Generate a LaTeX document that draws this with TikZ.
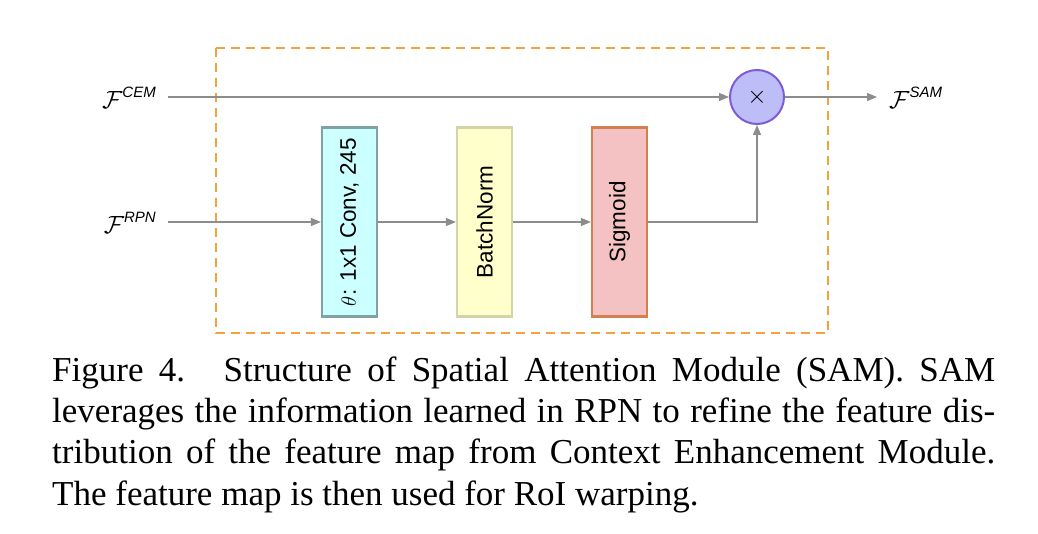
\documentclass[tikz,border=0pt]{standalone}
\usepackage{fontspec}
\setmainfont{Liberation Serif}
\setsansfont{Liberation Sans}
\usetikzlibrary{arrows.meta}

\definecolor{dashorange}{HTML}{F5A13F}
\definecolor{flowgray}{HTML}{8C8C8C}
\definecolor{convfill}{HTML}{CCFFFF}
\definecolor{convline}{HTML}{7FA3A3}
\definecolor{bnfill}{HTML}{FFFFCC}
\definecolor{bnline}{HTML}{D4D4A6}
\definecolor{sigfill}{HTML}{F4C2C2}
\definecolor{sigline}{HTML}{D2804F}
\definecolor{mulfill}{HTML}{BDBDF7}
\definecolor{mulline}{HTML}{7E5BD8}

\newcommand{\featlabel}[1]{$\mathcal{F}$\raisebox{11pt}{\fontsize{15}{15}\selectfont\sffamily\itshape #1}}

\begin{document}
\begin{tikzpicture}[x=1pt,y=-1pt,
    flow/.style={draw=flowgray, line width=1.3pt, -{Triangle[length=10pt,width=8pt]}},
    layer/.style={rectangle, line width=2.2pt, minimum width=55pt, minimum height=189pt,
        inner sep=0pt, font=\sffamily\fontsize{22.5}{22.5}\selectfont},
    feat/.style={inner sep=0pt, font=\fontsize{41}{41}\selectfont}]
    \useasboundingbox (0,0) rectangle (1038,534);

    % SAM frame
    \draw[dashorange, line width=2.5pt, dash pattern=on 9pt off 6pt] (216,48) rectangle (828,333);

    % Inputs
    \node[feat, anchor=east] (fcem) at (156,98) {\featlabel{CEM}};
    \node[feat, anchor=east] (frpn) at (156,223) {\featlabel{RPN}};

    % Layers
    \node[layer, draw=convline, fill=convfill] (conv) at (349.5,222) {\rotatebox{90}{$\theta$: 1x1 Conv, 245}};
    \node[layer, draw=bnline, fill=bnfill] (bn) at (484.5,222) {\rotatebox{90}{BatchNorm}};
    \node[layer, draw=sigline, fill=sigfill] (sig) at (619.5,222) {\rotatebox{90}{Sigmoid}};

    % Product
    \node[circle, draw=mulline, fill=mulfill, line width=2pt, minimum size=54pt, inner sep=0pt] (mul) at (757,97)
        {\fontsize{46}{46}\selectfont$\times$};

    % Output
    \node[feat, anchor=west] (fsam) at (889,98) {\featlabel{SAM}};

    % Connections
    \draw[flow, shorten <=12pt] (fcem.east |- mul) -- (mul);
    \draw[flow, shorten <=12pt] (frpn.east |- conv) -- (conv.west);
    \draw[flow] (conv.east) -- (bn.west);
    \draw[flow] (bn.east) -- (sig.west);
    \draw[flow] (sig.east) -| (mul.south);
    \draw[flow, shorten >=12pt] (mul) -- (fsam.west |- mul);

    % Caption
    \node[anchor=north west, inner sep=0pt, text width=943pt, align=justify,
        font=\fontsize{35}{41.3}\selectfont] (caption) at (52,356.5)
        {Figure 4.\hspace{0.2em} Structure of Spatial Attention Module (SAM). SAM\linebreak
        leverages the information learned in RPN to refine the feature dis-\linebreak
        tribution of the feature map from Context Enhancement Module.\linebreak
        The feature map is then used for RoI warping.};
\end{tikzpicture}
\end{document}
